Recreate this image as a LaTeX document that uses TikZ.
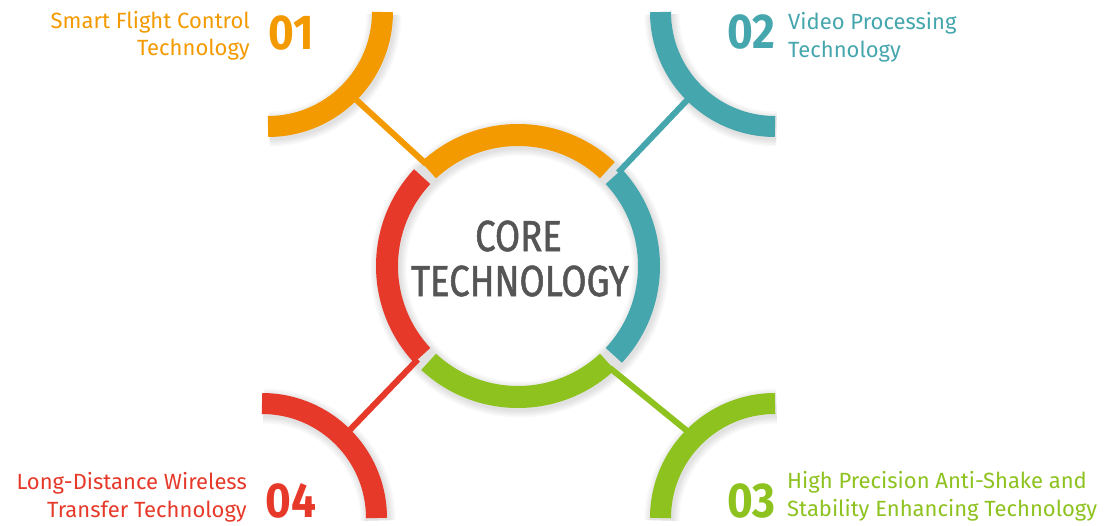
\documentclass[tikz,border=0pt]{standalone}
\usepackage{fontspec}
\setmainfont{Fira Sans}
\newfontfamily\lblfont{Fira Sans}
\newfontfamily\numfont[FakeStretch=0.9]{Fira Sans}
\newfontfamily\corefont[FakeStretch=0.84,FakeBold=1.2]{Fira Sans}
\definecolor{cOr}{HTML}{F39A00}
\definecolor{cTe}{HTML}{46A6AE}
\definecolor{cGn}{HTML}{8DC21F}
\definecolor{cRd}{HTML}{E6392A}
\definecolor{cGy}{HTML}{555555}
\begin{document}
\begin{tikzpicture}[x=1pt,y=1pt,
  seg/.style={line width=22pt},
  bigarc/.style={line width=21pt},
  link/.style={line width=6pt},
  shd/.style={black, opacity=0.025},
  lbl/.style={inner sep=0pt, text height=16pt, text depth=4pt, font=\lblfont\fontsize{22}{26}\selectfont},
  num/.style={inner sep=0pt, font=\numfont\bfseries\fontsize{49}{50}\selectfont},
  core/.style={inner sep=0pt, text=cGy, font=\corefont\fontsize{43.5}{46}\selectfont}
]
\fill[white] (0,0) rectangle (1106,-525);
\useasboundingbox (0,0) rectangle (1106,-525);

% centres
\coordinate (C) at (518,-266);
\coordinate (OC) at (268,-12);
\coordinate (TC) at (775,-12);
\coordinate (RC) at (262,-518);
\coordinate (GC) at (775,-518);

% soft shadows
\foreach \w in {2,5,8,11,14}{
  \draw[shd, line width={22+\w}] ([shift={(1.5,-2.5)}]C) circle[radius=131];
  \draw[shd, line width={21+\w}] ([shift={(1.5,-2.5)}]OC) ++(0:114.5) arc[start angle=0,end angle=-90,radius=114.5];
  \draw[shd, line width={21+\w}] ([shift={(1.5,-2.5)}]TC) ++(180:114.5) arc[start angle=180,end angle=270,radius=114.5];
  \draw[shd, line width={21+\w}] ([shift={(1.5,-2.5)}]RC) ++(0:114.5) arc[start angle=0,end angle=90,radius=114.5];
  \draw[shd, line width={21+\w}] ([shift={(1.5,-2.5)}]GC) ++(90:114.5) arc[start angle=90,end angle=180,radius=114.5];
}

% connector end points
\coordinate (oRing) at ([shift={(132:137)}]C);
\coordinate (tRing) at ([shift={(43:137)}]C);
\coordinate (rRing) at ([shift={(223:137)}]C);
\coordinate (gRing) at ([shift={(312:137)}]C);
\coordinate (oArc) at ([shift={(-45:118)}]OC);
\coordinate (tArc) at ([shift={(225:118)}]TC);
\coordinate (rArc) at ([shift={(45:118)}]RC);
\coordinate (gArc) at ([shift={(135:118)}]GC);

% connectors
\draw[link,cOr] (oRing) -- (oArc);
\draw[link,cTe] (tRing) -- (tArc);
\draw[link,cRd] (rRing) -- (rArc);
\draw[link,cGn] (gRing) -- (gArc);

% central ring segments
\draw[seg,cOr] ([shift={(47:131)}]C) arc[start angle=47,end angle=133,radius=131];
\draw[seg,cRd] ([shift={(137:131)}]C) arc[start angle=137,end angle=223,radius=131];
\draw[seg,cGn] ([shift={(227:131)}]C) arc[start angle=227,end angle=313,radius=131];
\draw[seg,cTe] ([shift={(-43:131)}]C) arc[start angle=-43,end angle=43,radius=131];

% outer quarter arcs
\draw[bigarc,cOr] ([shift={(0:114.5)}]OC) arc[start angle=0,end angle=-90,radius=114.5];
\draw[bigarc,cTe] ([shift={(180:114.5)}]TC) arc[start angle=180,end angle=270,radius=114.5];
\draw[bigarc,cRd] ([shift={(0:114.5)}]RC) arc[start angle=0,end angle=90,radius=114.5];
\draw[bigarc,cGn] ([shift={(90:114.5)}]GC) arc[start angle=90,end angle=180,radius=114.5];

% centre text
\node[core, anchor=base] (core1) at (518.5,-251) {CORE};
\node[core, anchor=base] (core2) at (520,-296) {TECHNOLOGY};

% labels 01
\node[lbl, text=cOr, anchor=base east] (l1a) at (250,-28) {Smart Flight Control};
\node[lbl, text=cOr, anchor=base east] (l1b) at (250,-55) {Technology};
\node[num, text=cOr, anchor=base west] (n1) at (268,-49) {01};
% labels 02
\node[num, text=cTe, anchor=base west] (n2) at (727,-48) {02};
\node[lbl, text=cTe, anchor=base west] (l2a) at (788,-29.5) {Video Processing};
\node[lbl, text=cTe, anchor=base west] (l2b) at (788,-57.5) {Technology};
% labels 03
\node[num, text=cGn, anchor=base west] (n3) at (727,-517) {03};
\node[lbl, text=cGn, anchor=base west] (l3a) at (787,-488) {High Precision Anti-Shake and};
\node[lbl, text=cGn, anchor=base west] (l3b) at (787,-516) {Stability Enhancing Technology};
% labels 04
\node[num, text=cRd, anchor=base west] (n4) at (265,-517) {04};
\node[lbl, text=cRd, anchor=base east] (l4a) at (247,-489) {Long-Distance Wireless};
\node[lbl, text=cRd, anchor=base east] (l4b) at (247,-517) {Transfer Technology};
\end{tikzpicture}
\end{document}
